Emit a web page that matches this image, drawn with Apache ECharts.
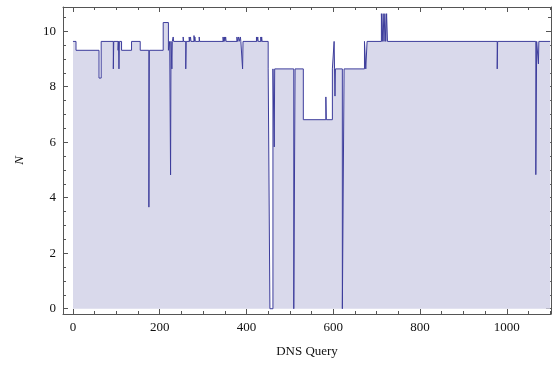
<!DOCTYPE html>
<html>
<head>
<meta charset="utf-8">
<script src="https://cdn.jsdelivr.net/npm/echarts@6/dist/echarts.min.js"></script>
<style>html,body{margin:0;padding:0;background:#fff}#c{width:552px;height:369px}</style>
</head>
<body>
<div id="c"></div>
<script>
// DNS query index where each constant run starts, and the N value held over that run
const segStart = [0, 7, 60, 65, 93, 94, 104, 105, 106, 107, 112, 135, 155, 175, 176, 208, 220, 223, 225, 226, 228, 229,
  231, 232, 254, 255, 260, 261, 268, 269, 271, 272, 279, 280, 281, 282, 291, 292,
  346, 347, 349, 350, 352, 353, 378, 379, 382, 383, 386, 387, 391, 392,
  423, 424, 426, 427, 433, 434, 435, 436, 450, 454, 461, 464, 465, 509, 512, 531, 583, 584,
  598, 602, 603, 604, 605, 621, 625, 672, 675, 678, 711, 713, 715, 717, 719, 721, 723, 725,
  978, 979, 1067, 1069, 1073, 1074, 1100];
const segValue = [9.63, 9.31, 8.31, 9.63, 8.64, 9.63, 9.31, 9.63, 8.64, 9.63, 9.31, 9.63, 9.31, 3.66, 9.31, 10.31, 9.31, 9.63, 4.82, 9.63, 8.64, 9.63,
  9.79, 9.63, 9.79, 9.63, 8.64, 9.63, 9.79, 9.63, 9.79, 9.63, 9.84, 9.63, 9.79, 9.63, 9.79, 9.63,
  9.79, 9.63, 9.79, 9.63, 9.79, 9.63, 9.79, 9.63, 9.79, 9.63, 9.79, 9.63, 8.64, 9.63,
  9.79, 9.63, 9.79, 9.63, 9.79, 9.63, 9.79, 9.63, 8.64, 0, 8.64, 5.83, 8.64, 0, 8.64, 6.81, 7.63, 6.81,
  8.64, 9.63, 8.64, 7.66, 8.64, 0, 8.64, 9.63, 8.64, 9.63, 10.63, 9.63, 10.63, 9.63, 10.63, 9.63, 10.63, 9.63,
  8.64, 9.63, 4.83, 9.63, 8.82, 9.63, 9.63];
const xMajorTicks = [0, 200, 400, 600, 800, 1000];
const xMinorTicks = [0, 50, 100, 150, 200, 250, 300, 350, 400, 450, 500, 550, 600, 650, 700, 750, 800, 850, 900, 950, 1000, 1050, 1100];
const yMajorTicks = [0, 2, 4, 6, 8, 10];
const yMinorTicks = [0, 0.5, 1, 1.5, 2, 2.5, 3, 3.5, 4, 4.5, 5, 5.5, 6, 6.5, 7, 7.5, 8, 8.5, 9, 9.5, 10, 10.5];
const xTitle = 'DNS Query';
const yTitle = 'N';

const data = segStart.map((x, i) => [x, segValue[i]]);
const frameColor = '#555';
const font = 'Liberation Serif';
const xr = {min: -23, max: 1102};
const yr = {min: -0.19, max: 10.87};
const plain = v => String(v);

function xAx(pos, ticks, len, labels, line, name) {
  return Object.assign({
    type: 'value', position: pos, min: xr.min, max: xr.max, gridIndex: 0,
    axisLine: {show: line, onZero: false, lineStyle: {color: frameColor, width: 1}},
    axisTick: {show: true, inside: true, length: len, customValues: ticks, lineStyle: {color: frameColor, width: 1}},
    axisLabel: labels ? {show: true, customValues: ticks, formatter: plain, color: '#111', fontFamily: font, fontSize: 13, margin: 7} : {show: false},
    splitLine: {show: false}
  }, name ? {name: name, nameLocation: 'middle', nameGap: 31, nameTextStyle: {fontFamily: font, fontSize: 13, color: '#111'}} : {});
}
function yAx(pos, ticks, len, labels, line, name) {
  return Object.assign({
    type: 'value', position: pos, min: yr.min, max: yr.max, gridIndex: 0,
    axisLine: {show: line, onZero: false, lineStyle: {color: frameColor, width: 1}},
    axisTick: {show: true, inside: true, length: len, customValues: ticks, lineStyle: {color: frameColor, width: 1}},
    axisLabel: labels ? {show: true, customValues: ticks, formatter: plain, color: '#111', fontFamily: font, fontSize: 13, margin: 7} : {show: false},
    splitLine: {show: false}
  }, name ? {name: name, nameLocation: 'middle', nameGap: 37, nameRotate: 90, nameTextStyle: {fontFamily: font, fontSize: 13, fontStyle: 'italic', color: '#111'}} : {});
}

const chart = echarts.init(document.getElementById('c'), null, {renderer: 'canvas'});
chart.setOption({
  animation: false,
  backgroundColor: '#fff',
  grid: {left: 63, right: 1, top: 7, bottom: 55, containLabel: false},
  xAxis: [
    xAx('bottom', xMajorTicks, 5, true, true, xTitle),
    xAx('bottom', xMinorTicks, 3, false, false),
    xAx('top', xMajorTicks, 5, false, true),
    xAx('top', xMinorTicks, 3, false, false)
  ],
  yAxis: [
    yAx('left', yMajorTicks, 5, true, true, yTitle),
    yAx('left', yMinorTicks, 3, false, false),
    yAx('right', yMajorTicks, 5, false, true),
    yAx('right', yMinorTicks, 3, false, false)
  ],
  series: [{
    type: 'line', xAxisIndex: 0, yAxisIndex: 0, data: data, step: 'end',
    symbol: 'none', showSymbol: false,
    lineStyle: {color: '#3d3d9c', width: 1},
    areaStyle: {color: 'rgb(217,217,235)', opacity: 1, origin: 0}
  }]
});
</script>
</body>
</html>
